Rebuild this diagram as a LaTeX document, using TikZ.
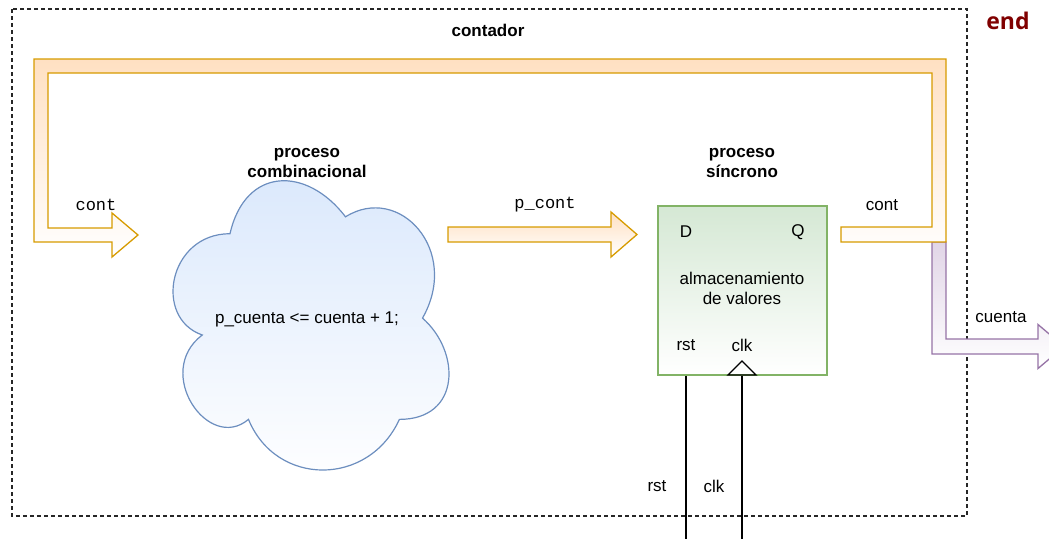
\documentclass[tikz,border=0pt]{standalone}
\usepackage{fontspec}
\setmainfont{Liberation Sans}
\setmonofont{Liberation Mono}
\newfontfamily\endfont{Open Sans}
\usetikzlibrary{positioning}

\definecolor{orangeline}{HTML}{D79B00}
\definecolor{orangefill}{HTML}{FFE0C2}
\definecolor{purpleline}{HTML}{9673A6}
\definecolor{purplefill}{HTML}{E1D5E7}
\definecolor{greenline}{HTML}{82B366}
\definecolor{greenfill}{HTML}{D5E8D4}
\definecolor{blueline}{HTML}{6C8EBF}
\definecolor{bluefill}{HTML}{DAE8FC}
\definecolor{endred}{HTML}{800000}

\tikzset{
  txt/.style={font=\fontsize{17}{20}\selectfont, inner sep=0pt},
  txtb/.style={font=\bfseries\fontsize{17}{20}\selectfont, inner sep=0pt, align=center},
  txtm/.style={font=\ttfamily\fontsize{17}{20}\selectfont, inner sep=0pt},
  orangearrow/.style={draw=orangeline, line width=1.3, top color=orangefill, bottom color=white, line join=miter},
  purplearrow/.style={draw=purpleline, line width=1.3, top color=purplefill, bottom color=white, line join=miter},
}

\begin{document}
\begin{tikzpicture}[x=1pt, y=-1pt]
\useasboundingbox (0,0) rectangle (1049,539);

    % marco del contador
    \draw[line width=1.1, dash pattern=on 4pt off 3pt, black!85] (12,9) rectangle (967,516);
    \node[txtb] (contador) at (488,30) {contador};
    \node[inner sep=0pt, text=endred, font=\endfont\bfseries\fontsize{23}{26}\selectfont] (fin) at (1008,21) {end};

    % salida cuenta
    \draw[purplearrow] (932,242) -- (932,354) -- (1038,354) -- (1038,368.5) -- (1064,346.5) -- (1038,324.5) -- (1038,339) -- (946,339) -- (946,242) -- cycle;
    \node[txt] (cuenta) at (1001,317) {cuenta};

    % realimentacion cont
    \draw[orangearrow] (841,227) -- (932,227) -- (932,73) -- (48,73) -- (48,228) -- (112,228) -- (112,213) -- (138,235) -- (112,257) -- (112,242) -- (34,242) -- (34,59) -- (946,59) -- (946,242) -- (841,242) -- cycle;
    \node[txtm] (contin) at (96,205) {cont};
    \node[txt] (contout) at (882,205) {cont};

    % proceso combinacional
    \begin{scope}[shift={(153,149.3)}, x=308pt, y=-337.6pt]
    \draw[draw=blueline, line width=1.2, top color=bluefill, bottom color=white] (0.25,0.25) .. controls (0.05,0.25) and (0,0.5) .. (0.16,0.55) .. controls (0,0.66) and (0.18,0.9) .. (0.31,0.8) .. controls (0.4,1) and (0.7,1) .. (0.8,0.8) .. controls (1,0.8) and (1,0.6) .. (0.875,0.5) .. controls (1,0.3) and (0.8,0.1) .. (0.625,0.2) .. controls (0.5,0.05) and (0.3,0.05) .. (0.25,0.25) -- cycle;
    \end{scope}
    \node[txtb] (comb) at (307,163) {proceso\\combinacional};
    \node[txt] (suma) at (307,319) {p\_cuenta <= cuenta + 1;};

    % p_cont
    \draw[orangearrow] (448,227) -- (611,227) -- (611,212) -- (637,234.5) -- (611,257) -- (611,242) -- (448,242) -- cycle;
    \node[txtm] (pcont) at (545,205) {p\_cont};

    % proceso sincrono
    \node[txtb] (sinc) at (742,163) {proceso\\síncrono};
    \node[draw=greenline, line width=1.2, top color=greenfill, bottom color=white, minimum width=169pt, minimum height=169pt] (reg) at (742.5,290.5) {};
    \node[txt] (d) at (686,232) {D};
    \node[txt] (q) at (798,232) {Q};
    \node[txt, align=center] (alm) at (742,288) {almacenamiento\\de valores};
    \node[txt] (rstin) at (686,345) {rst};
    \node[txt] (clkin) at (742,345) {clk};
    \draw[line width=1.3] (728,375) -- (742,361) -- (756,375) -- cycle;

    % entradas
    \coordinate (rstend) at (686,539);
    \coordinate (clkend) at (742,539);
    \draw[line width=1.3] (reg.south -| rstin) -- (rstend);
    \draw[line width=1.3] (reg.south -| clkin) -- (clkend);
    \node[txt] (rstlbl) at (657,486) {rst};
    \node[txt] (clklbl) at (714,486) {clk};
\end{tikzpicture}
\end{document}
